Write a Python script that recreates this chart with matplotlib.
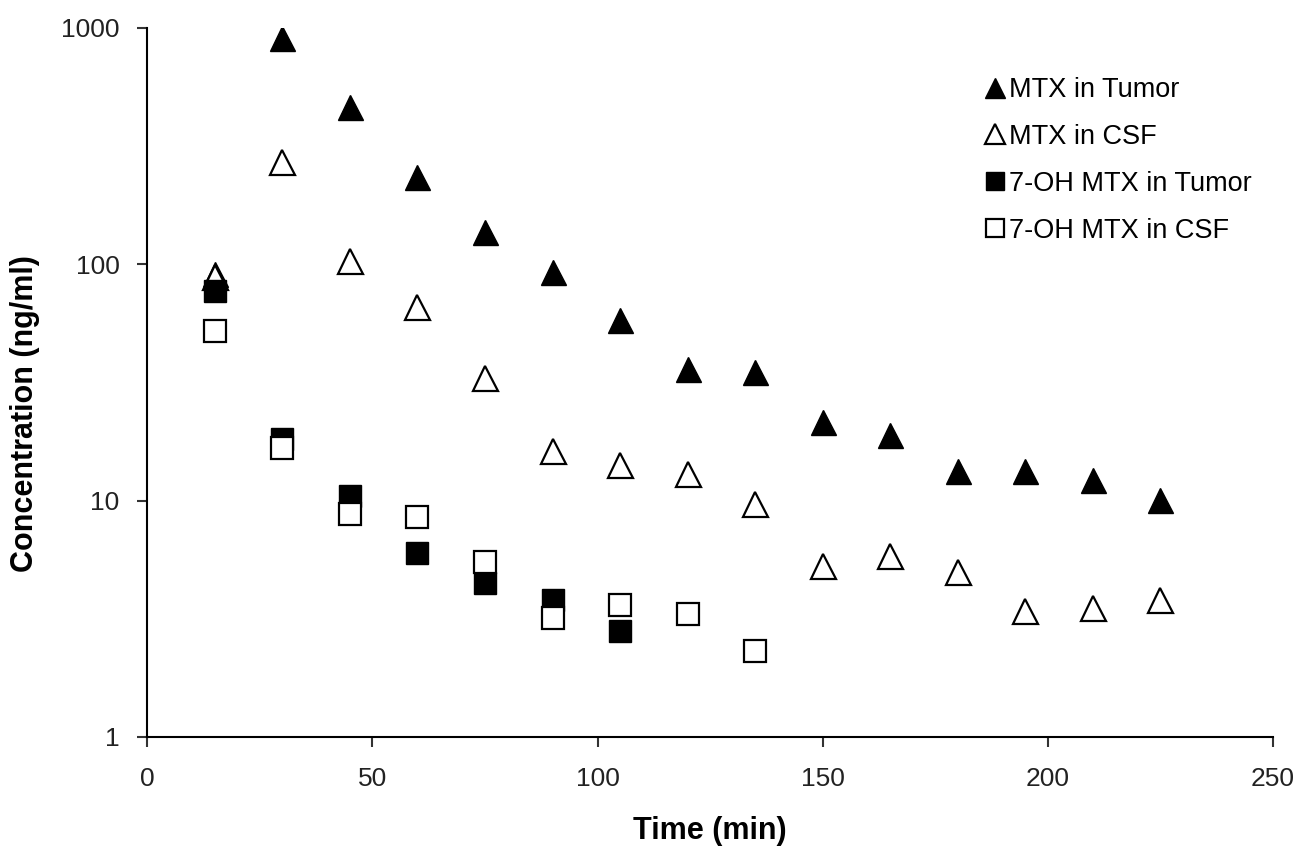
import numpy as np
import matplotlib.pyplot as plt

plt.rcParams['font.family'] = ['Liberation Sans', 'DejaVu Sans']

# sampling times (min)
time_mtx = [15, 30, 45, 60, 75, 90, 105, 120, 135, 150, 165, 180, 195, 210, 225]
time_oh_tumor = [15, 30, 45, 60, 75, 90, 105]
time_oh_csf = [15, 30, 45, 60, 75, 90, 105, 120, 135]

# concentrations (ng/ml)
mtx_tumor = [91, 907, 462, 234, 137, 92.5, 58, 36, 35, 21.5, 19, 13.4, 13.4, 12.2, 10.1]
mtx_csf = [88, 270, 103, 66, 33, 16.2, 14.2, 12.9, 9.7, 5.3, 5.8, 5.0, 3.4, 3.5, 3.8]
oh_tumor = [77, 18.3, 10.5, 6.0, 4.5, 3.8, 2.8]
oh_csf = [52, 16.7, 8.8, 8.5, 5.5, 3.2, 3.6, 3.3, 2.3]

fig = plt.figure(figsize=(13.03, 8.47), dpi=100)
ax = fig.add_axes([0.113, 0.130, 0.864, 0.837])

ax.plot(time_mtx, mtx_tumor, linestyle='none', marker='^', ms=18,
        color='black', label='MTX in Tumor')
ax.plot(time_mtx, mtx_csf, linestyle='none', marker='^', ms=18,
        markerfacecolor='white', markeredgecolor='black', markeredgewidth=1.6,
        label='MTX in CSF')
ax.plot(time_oh_tumor, oh_tumor, linestyle='none', marker='s', ms=15.5,
        color='black', label='7-OH MTX in Tumor')
ax.plot(time_oh_csf, oh_csf, linestyle='none', marker='s', ms=15.5,
        markerfacecolor='white', markeredgecolor='black', markeredgewidth=1.6,
        label='7-OH MTX in CSF')

ax.set_yscale('log')
ax.set_xlim(0, 250)
ax.set_ylim(1, 1000)
ax.set_yticks([1, 10, 100, 1000])
ax.set_yticklabels(['1', '10', '100', '1000'])
ax.minorticks_off()
ax.set_xticks([0, 50, 100, 150, 200, 250])

ax.spines['top'].set_visible(False)
ax.spines['right'].set_visible(False)
ax.spines['left'].set_linewidth(1.5)
ax.spines['bottom'].set_linewidth(1.5)
ax.tick_params(axis='both', labelsize=19, width=1.5, length=7, color='#333333',
               labelcolor='#222222')
ax.tick_params(axis='y', pad=13)
ax.tick_params(axis='x', pad=15)

ax.set_xlabel('Time (min)', fontsize=22, fontweight='bold')
ax.xaxis.set_label_coords(0.5, -0.112)
ax.set_ylabel('Concentration (ng/ml)', fontsize=22, fontweight='bold')
ax.yaxis.set_label_coords(-0.095, 0.456)

ax.legend(loc='upper left', bbox_to_anchor=(0.7575, 0.909),
          bbox_transform=fig.transFigure, frameon=False,
          fontsize=19.5, markerscale=0.8, handlelength=0.6, handletextpad=0.2,
          labelspacing=0.77, borderpad=0, borderaxespad=0)

fig.savefig('out.png', dpi=100)
